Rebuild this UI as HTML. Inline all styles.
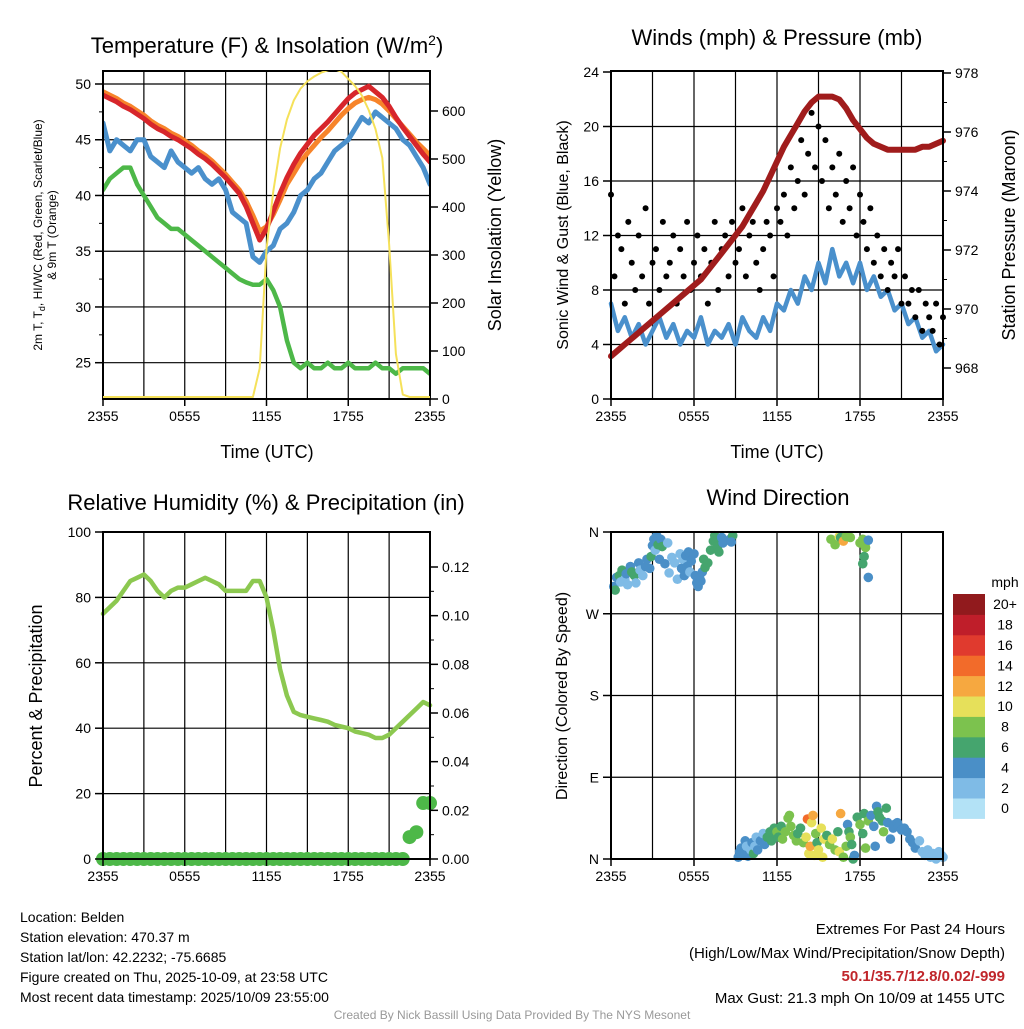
<!DOCTYPE html>
<html><head><meta charset="utf-8"><style>
html,body{margin:0;padding:0;background:#fff;}
svg text{font-family:"Liberation Sans",Arial,sans-serif;fill:#000;}
</style></head><body>
<svg id="c" width="1024" height="1024" viewBox="0 0 1024 1024" xmlns="http://www.w3.org/2000/svg">
<rect width="1024" height="1024" fill="#fff"/>
<g id="p1"></g>
<g id="p2"></g>
<g id="p3"></g>
<g id="p4"></g>
<text x="267" y="53" font-size="22" text-anchor="middle">Temperature (F) &amp; Insolation (W/m<tspan dy="-8" font-size="14">2</tspan><tspan dy="8">)</tspan></text>
<text x="777" y="45" font-size="22" text-anchor="middle">Winds (mph) &amp; Pressure (mb)</text>
<text x="266" y="510" font-size="22" text-anchor="middle">Relative Humidity (%) &amp; Precipitation (in)</text>
<text x="778" y="505" font-size="22" text-anchor="middle">Wind Direction</text>
<text x="267" y="458" font-size="18" text-anchor="middle">Time (UTC)</text>
<text x="777" y="458" font-size="18" text-anchor="middle">Time (UTC)</text>
<text transform="translate(42,235) rotate(-90)" font-size="12" text-anchor="middle">2m T, T<tspan font-size="9" dy="3">d</tspan><tspan dy="-3">, HI/WC (Red, Green, Scarlet/Blue)</tspan></text>
<text transform="translate(56,235) rotate(-90)" font-size="12" text-anchor="middle">&amp; 9m T (Orange)</text>
<text transform="translate(501,235) rotate(-90)" font-size="18" text-anchor="middle">Solar Insolation (Yellow)</text>
<text transform="translate(568,235) rotate(-90)" font-size="16" text-anchor="middle">Sonic Wind &amp; Gust (Blue, Black)</text>
<text transform="translate(1015,235) rotate(-90)" font-size="18" text-anchor="middle">Station Pressure (Maroon)</text>
<text transform="translate(42,696) rotate(-90)" font-size="18" text-anchor="middle">Percent &amp; Precipitation</text>
<text transform="translate(567,696) rotate(-90)" font-size="16" text-anchor="middle">Direction (Colored By Speed)</text>
<g font-size="14">
<text x="20" y="922">Location: Belden</text>
<text x="20" y="942">Station elevation: 470.37 m</text>
<text x="20" y="962">Station lat/lon: 42.2232; -75.6685</text>
<text x="20" y="982">Figure created on Thu, 2025-10-09, at 23:58 UTC</text>
<text x="20" y="1002">Most recent data timestamp: 2025/10/09 23:55:00</text>
</g>
<g font-size="15" text-anchor="end">
<text x="1005" y="934">Extremes For Past 24 Hours</text>
<text x="1005" y="958">(High/Low/Max Wind/Precipitation/Snow Depth)</text>
<text x="1005" y="981" style="fill:#c0262b;font-weight:bold">50.1/35.7/12.8/0.02/-999</text>
<text x="1005" y="1003">Max Gust: 21.3 mph On 10/09 at 1455 UTC</text>
</g>
<text x="512" y="1019" font-size="12" text-anchor="middle" style="fill:#999">Created By Nick Bassill Using Data Provided By The NYS Mesonet</text>
</svg>
<script>
// ---- data (half-hourly from 2355 UTC unless noted) ----
const timeTicks = ["2355","0555","1155","1755","2355"];
const tempRed = [49,48.7,48.4,48,47.7,47.3,46.9,46.4,46,45.7,45.3,45,44.6,44.2,43.7,43.3,42.8,42.2,41.6,40.9,40.2,39,37.5,36,37,38.6,40.2,41.6,42.8,43.8,44.6,45.4,46,46.6,47.3,48,48.7,49.2,49.5,49.8,49.3,48.8,48,47,46.1,45.3,44.5,43.7,43];
const tempOrange = [49.3,49,48.7,48.3,48,47.6,47.2,46.7,46.3,46,45.6,45.3,44.9,44.5,44,43.6,43.1,42.5,41.9,41.2,40.5,39.5,38.2,36.8,37.2,38.3,39.6,41,42,43,43.8,44.5,45.2,45.8,46.5,47.2,47.8,48.3,48.6,48.8,48.6,48.2,47.6,46.9,46.2,45.5,44.8,44.2,43.6];
const tempBlue = [46.5,44,45,44.5,44,45,45,43.5,43,42.5,44,43,42.5,42,42.5,41.5,41,41.5,40.5,38.5,38,37.5,34.5,34,35,35.5,37,37.5,38.5,40,40.5,41.5,42,43,44,44.5,45,46,47,46.5,47.5,47,46.5,46,45,44.5,43.5,42.5,41];
const dewGreen = [40.5,41.5,42,42.5,42.5,41,40,39,38,37.5,37,37,36.5,36,35.5,35,34.5,34,33.5,33,32.5,32.2,32,32,32.5,31.5,30,27,25,24.5,25,24.5,24.5,25,24.5,24.5,25,24.5,24.5,24.5,25,24.5,24.5,24,24.5,24.5,24.5,24.5,24];
const solar = [0,0,0,0,0,0,0,0,0,0,0,0,0,0,0,0,0,0,0,0,0,0,0,60,310,430,520,580,620,645,660,670,678,683,685,680,665,650,630,600,560,500,320,90,5,0,0,0,0];
const tempTicks = [25,30,35,40,45,50];
const solarTicks = [0,100,200,300,400,500,600];
const windSpeed = [7,5,6,4.5,5.5,4,5,6,4.5,5.5,4,5,4.5,6,4,5,4.5,5.5,4,6,5,4.5,6,5,7,6.5,8,7,9,8,10,8.5,11,9,10,8.5,10,8,9,7.5,8,6.5,7,5.5,6,4.5,5,3.5,4];
// gusts every 15 minutes
const windGust = [15,9,12,11,7,13,10,8,12,9,14,7,10, 11,8,13,9,10,12,7,11,9,13,8,10, 12,9,11,7,10,13,8,11,12,9,13,10, 11,14,9,12,13,10,8,11,13,12,9,14, 13,15,12,17,14,16,19,15,18,21,17,20, 16,19,14,17,15,18,13,16,14,17,12,15, 13,11,14,10,12,9,11,8,10,9,11,7, 9,7,8,6,8,5,7,6,5,7,4,6];
const pressure = [968.4,968.6,968.8,969.0,969.2,969.4,969.6,969.8,970.0,970.2,970.4,970.6,970.8,971.0,971.3,971.6,971.9,972.2,972.5,972.8,973.2,973.6,974.0,974.5,975.0,975.5,975.9,976.3,976.7,977.0,977.2,977.2,977.2,977.1,976.8,976.4,976.1,975.8,975.6,975.5,975.4,975.4,975.4,975.4,975.4,975.5,975.5,975.6,975.7];
const windTicks = [0,4,8,12,16,20,24];
const presTicks = [968,970,972,974,976,978];
const rh = [75,77,79,82,85,86,87,85,82,80,82,83,83,84,85,86,85,84,82,82,82,82,85,85,80,70,58,50,45,44,43.5,43,42.5,42,41,40.5,40,39,38.5,38,37,37,38,40,42,44,46,48,47];
const precip = [0,0,0,0,0,0,0,0,0,0,0,0,0,0,0,0,0,0,0,0,0,0,0,0,0,0,0,0,0,0,0,0,0,0,0,0,0,0,0,0,0,0,0,0,0,0.009,0.011,0.023,0.023];
const rhTicks = [0,20,40,60,80,100];
const precipTicks = ["0.00","0.02","0.04","0.06","0.08","0.10","0.12"];
// wind direction points: hour since 2355, direction deg, speed mph
const dirHour = [0.2,0.3,0.4,0.6,0.7,0.8,1.0,1.1,1.2,1.4,1.5,1.7,1.8,2.0,2.1,2.3,2.5,2.6,2.8,2.9,3.0,3.1,3.2,3.3,3.4,3.5,3.6,3.7,3.9,4.1,4.2,4.4,4.6,4.8,5.0,5.1,5.2,5.3,5.4,5.5,5.6,5.7,5.8,6.0,6.1,6.2,6.3,6.4,6.5,6.6,6.7,6.8,7.0,7.2,7.4,7.5,7.6,7.7,7.8,8.0,8.1,8.6,8.8,8.7,
15.9,16.2,16.5,16.6,16.8,17.0,17.3,18.0,18.2,18.4,18.5,18.3,18.2,18.6,18.6,
9.2,9.3,9.4,9.6,9.7,9.8,9.9,10.1,10.2,10.3,10.4,10.5,10.6,10.8,11.0,11.1,11.3,11.5,11.6,11.8,11.9,12.0,12.1,12.3,12.4,12.6,12.8,12.9,13.0,13.2,13.4,13.5,13.7,13.9,14.1,14.2,14.3,14.4,14.5,14.6,14.7,14.8,14.9,15.0,15.2,15.3,15.4,15.6,15.8,16.0,16.2,16.4,16.5,16.6,16.8,17.0,17.1,17.2,17.3,17.4,17.5,17.6,17.8,18.0,18.2,18.3,18.4,18.6,18.8,19.0,19.1,19.2,19.3,19.4,19.6,19.7,19.9,20.0,20.2,20.4,20.5,20.7,20.8,21.0,21.2,21.4,21.6,21.8,22.0,22.3,22.5,22.7,22.9,23.1,23.3,23.5,23.7,23.9,24.0];
const dirDeg = [300,296,310,312,305,318,308,314,302,322,316,312,304,326,318,312,322,330,320,333,345,352,340,356,346,330,352,344,325,348,315,332,326,308,336,320,330,312,334,322,338,316,328,336,312,304,300,310,306,316,330,321,326,340,350,356,348,344,338,354,348,352,356,349,
352,346,355,354,350,355,354,348,352,343,350,333,325,351,310,
2,8,12,6,20,14,3,10,18,6,14,24,10,20,28,16,24,30,20,34,28,30,24,36,22,30,45,48,36,26,20,28,34,18,24,44,6,14,40,48,4,28,18,10,34,2,22,26,16,22,10,30,8,50,2,14,38,30,24,16,0,4,46,38,28,50,12,42,48,36,14,58,52,46,42,30,56,40,22,34,38,40,36,32,34,30,22,18,12,20,8,4,10,2,6,0,8,4,2];
const dirSpd = [4,6,4,6,2,6,3,5,2,4,6,6,3,4,2,3,4,4,5,6,4,4,3,4,6,4,4,6,4,2,3,2,3,2,2,4,3,4,4,4,5,2,4,4,4,4,4,5,4,4,6,6,6,6,6,6,6,6,6,4,4,4,6,4,
8,8,10,6,12,8,8,8,8,8,8,6,6,4,4,
4,4,4,4,4,2,4,2,4,6,2,2,4,4,2,4,6,6,6,6,6,8,6,6,8,8,8,8,8,8,8,6,6,8,10,14,10,12,10,12,10,8,6,10,10,10,10,6,8,10,8,6,10,12,8,8,4,6,8,6,6,4,6,8,6,6,8,8,4,4,4,4,6,6,6,8,6,4,4,4,4,4,4,4,4,4,4,4,4,2,2,2,2,2,2,2,2,2,2];
const speedLabels = ["0","2","4","6","8","10","12","14","16","18","20+"];
const speedColors = ["#b3e2f6","#7fbbe6","#4a8fc7","#45a56e","#7cc24e","#e6e05a","#f6a840","#f26b2a","#e03a2e","#bf1e2a","#911a1d"];
const dirTicks = ["N","E","S","W","N"];

const NS = "http://www.w3.org/2000/svg";
function mk(parent, tag, attrs){ const e=document.createElementNS(NS,tag); for(const k in attrs) e.setAttribute(k,attrs[k]); parent.appendChild(e); return e; }
function lin(d0,d1,r0,r1){ return v => r0 + (v-d0)/(d1-d0)*(r1-r0); }

function frame(g, L, R, T, B, xs, hGridVals, yL){
  for(let h=3; h<24; h+=3){
    const x=xs(h);
    const ln=mk(g,'line',{x1:x,x2:x,y1:T,y2:B,stroke:'#000','stroke-width':1.2});
    
    
  }
  hGridVals.forEach(v=>{
    const y=yL(v);
    const ln=mk(g,'line',{x1:L,x2:R,y1:y,y2:y,stroke:'#000','stroke-width':1.2});
    
    
  });
}
function border(g,L,R,T,B,xs){
  const r=mk(g,'rect',{x:L,y:T,width:R-L,height:B-T,fill:'none',stroke:'#000','stroke-width':2});
  
  
  timeTicks.forEach((t,i)=>{
    const x=xs(i*6);
    mk(g,'line',{x1:x,x2:x,y1:B,y2:B+7,stroke:'#000','stroke-width':1.5});
    const tx=mk(g,'text',{x:x,y:B+22,'font-size':14,'text-anchor':'middle'});
    tx.textContent=t;
    
    
  });
}
function yTicks(g, vals, labels, ys, xAxis, side, minor){
  vals.forEach((v,i)=>{
    const y=ys(v);
    const d= side==='left'?-8:8;
    mk(g,'line',{x1:xAxis,x2:xAxis+d,y1:y,y2:y,stroke:'#000','stroke-width':1.5});
    const tx=mk(g,'text',{x:xAxis+(side==='left'?-12:12),y:y+5,'font-size':14,'text-anchor':side==='left'?'end':'start'});
    tx.textContent=labels[i];
    
    
    if(minor && i<vals.length-1){
      const ym=ys((v+vals[i+1])/2);
      mk(g,'line',{x1:xAxis,x2:xAxis+d/2,y1:ym,y2:ym,stroke:'#000','stroke-width':1});
    }
  });
}
function series(g, arr, step, xs, ys, color, w, name){
  let d='';
  arr.forEach((v,i)=>{ d+=(i?'L':'M')+xs(i*step).toFixed(1)+','+ys(v).toFixed(1); });
  const p=mk(g,'path',{d:d,fill:'none',stroke:color,'stroke-width':w,'stroke-linejoin':'round','stroke-linecap':'round'});
  
  
}

// ---- Panel 1 ----
(function(){
  const g=document.getElementById('p1');
  const L=103,R=430,T=71,B=399;
  const xs=lin(0,24,L,R), yT=lin(50,25,84,362.7), yS=lin(0,600,397,110);
  const cg=mk(g,'defs',{}); const cp=mk(cg,'clipPath',{id:'c1'}); mk(cp,'rect',{x:L,y:T,width:R-L,height:B-T});
  frame(g,L,R,T,B,xs,tempTicks,yT);
  const s=mk(g,'g',{'clip-path':'url(#c1)'});
  series(s,dewGreen,0.5,xs,yT,'#4db848',4.5,'dewpoint-line');
  series(s,tempBlue,0.5,xs,yT,'#4a90cc',5,'windchill-line');
  series(s,tempOrange,0.5,xs,yT,'#f7842a',5,'temp-9m-line');
  series(s,tempRed,0.5,xs,yT,'#d7262b',5,'temp-2m-line');
  border(g,L,R,T,B,xs);
  const s2=mk(g,'g',{'clip-path':'url(#c1)'});
  series(s2,solar,0.5,xs,yS,'#f5e15a',2,'solar-line');
  yTicks(g,tempTicks,tempTicks.map(String),yT,L,'left',true);
  yTicks(g,solarTicks,solarTicks.map(String),lin(0,600,399,111),R,'right',false);
})();

// ---- Panel 2 ----
(function(){
  const g=document.getElementById('p2');
  const L=611,R=943,T=71,B=399;
  const xs=lin(0,24,L,R), yW=lin(0,24,399,72), yP=lin(968,978,368,73);
  frame(g,L,R,T,B,xs,[4,8,12,16,20],yW);
  series(g,windSpeed,0.5,xs,yW,'#4a90cc',4.5,'wind-speed-line');
  windGust.forEach((v,i)=>{
    const c=mk(g,'circle',{cx:xs(i*0.25),cy:yW(v),r:3,fill:'#000'});
    
    
  });
  series(g,pressure,0.5,xs,yP,'#a01c1c',6,'pressure-line');
  border(g,L,R,T,B,xs);
  yTicks(g,windTicks,windTicks.map(String),yW,L,'left',false);
  yTicks(g,presTicks,presTicks.map(String),yP,R,'right',true);
})();

// ---- Panel 3 ----
(function(){
  const g=document.getElementById('p3');
  const L=103,R=430,T=532,B=859;
  const xs=lin(0,24,L,R), yR=lin(0,100,859,532), yPr=lin(0,0.12,859,567);
  frame(g,L,R,T,B,xs,[20,40,60,80],yR);
  series(g,rh,0.5,xs,yR,'#8cc850',4.5,'rh-line');
  precip.forEach((v,i)=>{
    const c=mk(g,'circle',{cx:xs(i*0.5),cy:yPr(v),r:7,fill:'#4db848'});
    
    
  });
  border(g,L,R,T,B,xs);
  yTicks(g,rhTicks,rhTicks.map(String),yR,L,'left',false);
  yTicks(g,precipTicks.map(Number),precipTicks,yPr,R,'right',true);
})();

// ---- Panel 4 ----
(function(){
  const g=document.getElementById('p4');
  const L=611,R=943,T=532,B=859;
  const xs=lin(0,24,L,R), yD=lin(0,360,859,532);
  frame(g,L,R,T,B,xs,[90,180,270],yD);
  dirHour.forEach((h,i)=>{
    const b=Math.min(10,Math.floor(dirSpd[i]/2));
    const c=mk(g,'circle',{cx:xs(h),cy:yD(dirDeg[i]),r:4.8,fill:speedColors[b]});
    
    
  });
  border(g,L,R,T,B,xs);
  yTicks(g,[0,90,180,270,360],dirTicks,yD,L,'left',false);
  const cb=mk(g,'g',{});
  
  
  const h=20.4, top=594;
  const t0=mk(cb,'text',{x:1005,y:587,'font-size':14,'text-anchor':'middle'}); t0.textContent='mph';
  speedColors.forEach((col,i)=>{
    const y=top+(10-i)*h;
    const r=mk(cb,'rect',{x:953,y:y,width:32,height:h+0.5,fill:col});
    
    
    const t=mk(cb,'text',{x:1005,y:y+h/2+5,'font-size':14,'text-anchor':'middle'});
    t.textContent=speedLabels[i];
    
    
  });
})();
</script>
</body></html>
